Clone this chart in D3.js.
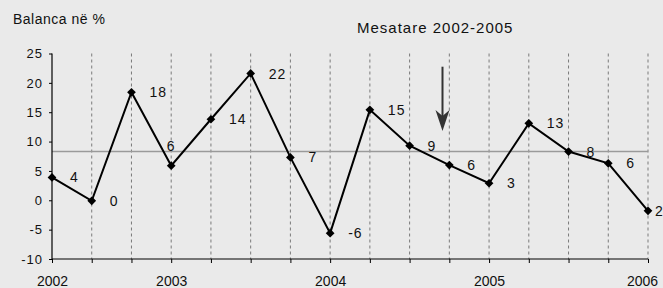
<!DOCTYPE html>
<html>
<head>
<meta charset="utf-8">
<script src="https://cdn.jsdelivr.net/npm/d3@7"></script>
<style>
  html, body { margin: 0; padding: 0; background: #eaeaea; }
  svg { display: block; font-family: "Liberation Sans", Arial, sans-serif; }
</style>
</head>
<body>
<div id="chart"></div>
<script>
// quarterly balance, %
const categories = ["2002", "", "", "2003", "", "", "", "2004", "", "", "", "2005", "", "", "", "2006"];
const values = [3.9, -0.1, 18.4, 5.9, 13.8, 21.6, 7.3, -5.6, 15.4, 9.3, 6.0, 2.9, 13.1, 8.3, 6.3, -1.8];
const valueLabels = ["4", "0", "18", "6", "14", "22", "7", "-6", "15", "9", "6", "3", "13", "8", "6", "2"];
const average = 8.3;
const yTicks = [25, 20, 15, 10, 5, 0, -5, -10];
const yTitle = "Balanca në %";
const avgTitle = "Mesatare 2002-2005";

const width = 663;
const height = 288;
const plotLeft = 52, plotRight = 648, plotTop = 53.5, plotBottom = 259;

const svg = d3
  .select("#chart")
  .append("svg")
  .attr("width", width)
  .attr("height", height);

svg.append("rect").attr("width", width).attr("height", height).attr("fill", "#eaeaea");

const I = d3.range(values.length);
const xScale = d3.scalePoint(I, [plotLeft, plotRight]);
const yScale = d3.scaleLinear([-10, 25], [plotBottom, plotTop]);

// dashed verticals
svg
  .append("g")
  .selectAll("line")
  .data(I.slice(1))
  .enter()
  .append("line")
  .attr("x1", (i) => xScale(i))
  .attr("x2", (i) => xScale(i))
  .attr("y1", plotTop)
  .attr("y2", plotBottom)
  .attr("stroke", "#7a7a7a")
  .attr("stroke-width", 1)
  .attr("stroke-dasharray", "3,3");

// average line
svg
  .append("line")
  .attr("x1", plotLeft)
  .attr("x2", plotRight)
  .attr("y1", yScale(average))
  .attr("y2", yScale(average))
  .attr("stroke", "#9a9a9a")
  .attr("stroke-width", 1.5);

// y axis (plain hyphen for negatives, like the original)
const yAxis = d3.axisLeft(yScale).tickValues(yTicks).tickFormat((d) => String(d)).tickSize(3).tickPadding(6);
svg
  .append("g")
  .attr("transform", `translate(${plotLeft},0)`)
  .call(yAxis)
  .call((g) => g.select(".domain").attr("stroke", "#000").attr("stroke-width", 1.2).attr("d", `M0,${plotTop}V${plotBottom}`))
  .call((g) => g.selectAll(".tick line").attr("stroke", "#000"))
  .call((g) =>
    g
      .selectAll(".tick text")
      .attr("fill", "#111")
      .attr("font-size", 13)
      .attr("letter-spacing", 1)
      .attr("font-family", "Liberation Sans, Arial, sans-serif")
  );

// x axis
const xAxis = d3.axisBottom(xScale).tickFormat((i) => categories[i]).tickSize(4).tickPadding(13);
svg
  .append("g")
  .attr("transform", `translate(0,${plotBottom})`)
  .call(xAxis)
  .call((g) => g.select(".domain").attr("stroke", "#000").attr("stroke-width", 1.2).attr("d", `M${plotLeft},0H${plotRight}`))
  .call((g) => g.selectAll(".tick line").attr("stroke", "#000"))
  .call((g) =>
    g
      .selectAll(".tick text")
      .attr("fill", "#111")
      .attr("font-size", 14)
      .attr("font-family", "Liberation Sans, Arial, sans-serif")
      .attr("dx", (i) => (i === I.length - 1 ? -6 : 0))
  );

// data line
const line = d3
  .line()
  .x((i) => xScale(i))
  .y((i) => yScale(values[i]));

svg
  .append("path")
  .attr("fill", "none")
  .attr("stroke", "#000")
  .attr("stroke-width", 2)
  .attr("d", line(I));

// value labels
svg
  .append("g")
  .selectAll("text")
  .data(I)
  .enter()
  .append("text")
  .attr("x", (i) => (i === 3 ? xScale(i) : xScale(i) + (i === I.length - 1 ? 7 : 18)))
  .attr("y", (i) => yScale(values[i]) + (i === 3 ? -20 : 0))
  .attr("dy", "0.36em")
  .attr("text-anchor", (i) => (i === 3 ? "middle" : "start"))
  .attr("font-size", 14)
  .attr("letter-spacing", 1)
  .attr("fill", "#111")
  .text((i) => valueLabels[i]);

// markers
svg
  .append("g")
  .selectAll("path")
  .data(I)
  .enter()
  .append("path")
  .attr("d", d3.symbol(d3.symbolSquare, 38))
  .attr("transform", (i) => `translate(${xScale(i)},${yScale(values[i])}) rotate(45)`)
  .attr("fill", "#000");

// titles
svg
  .append("text")
  .attr("x", 13)
  .attr("y", 24.3)
  .attr("font-size", 14)
  .attr("letter-spacing", 0.5)
  .attr("fill", "#111")
  .text(yTitle);

svg
  .append("text")
  .attr("x", 357)
  .attr("y", 33.3)
  .attr("font-size", 15)
  .attr("letter-spacing", 1)
  .attr("fill", "#111")
  .text(avgTitle);

// arrow pointing at the average
const ax = 442.5;
svg
  .append("line")
  .attr("x1", ax)
  .attr("x2", ax)
  .attr("y1", 66.7)
  .attr("y2", 118)
  .attr("stroke", "#333")
  .attr("stroke-width", 2);

svg
  .append("path")
  .attr("d", `M${ax},131 L${ax - 7},110 L${ax},116 L${ax + 7},110 Z`)
  .attr("fill", "#333");
</script>
</body>
</html>
